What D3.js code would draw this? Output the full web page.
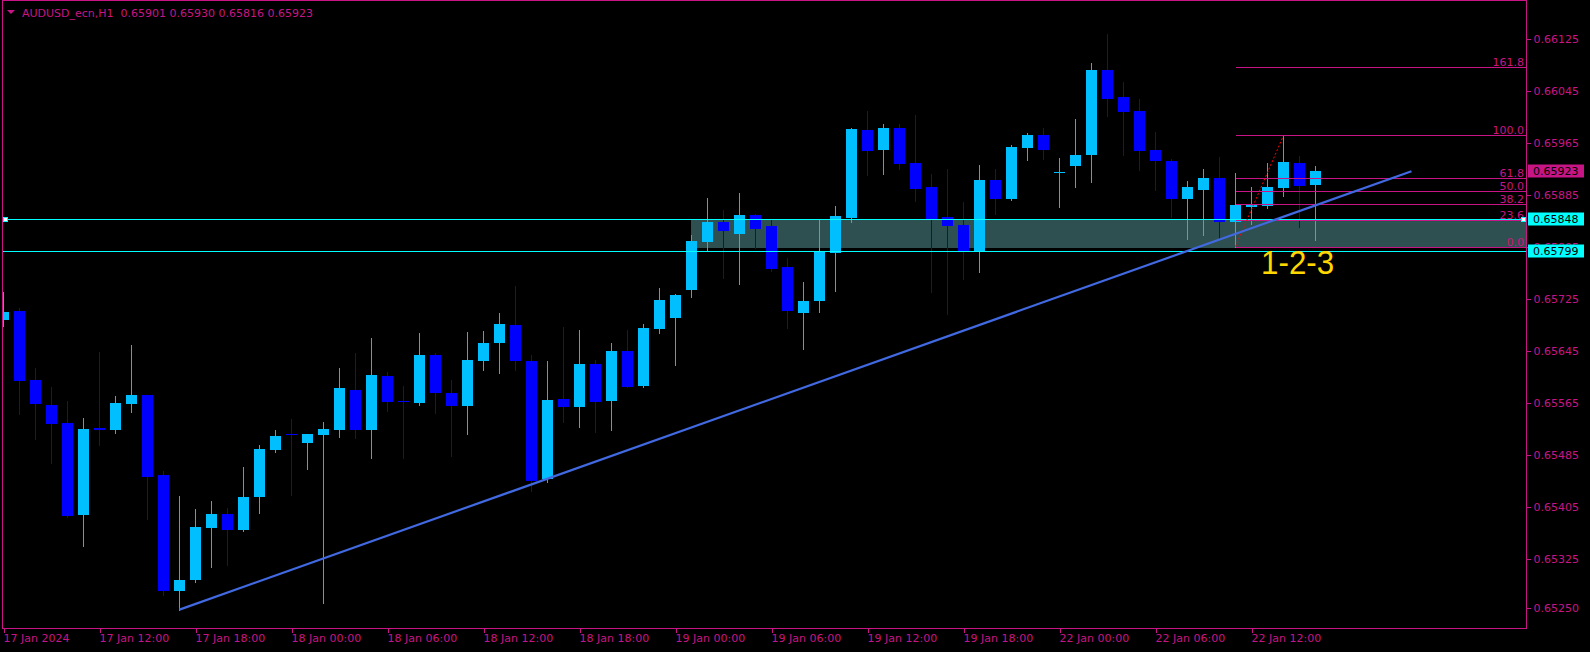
<!DOCTYPE html>
<html><head><meta charset="utf-8">
<script src="https://cdn.jsdelivr.net/npm/d3@7"></script>
<style>html,body{margin:0;padding:0;background:#000;overflow:hidden}</style>
</head><body>
<svg id="c" width="1590" height="652"></svg>
<script>
// ---------- data ----------
const symbol = "AUDUSD_ecn,H1";
const lastBar = ["0.65901", "0.65930", "0.65816", "0.65923"];
const opens = [0.65693,0.65707,0.65600,0.65562,0.65534,0.65393,0.65526,0.65524,0.65564,0.65577,
0.65454,0.65276,0.65293,0.65373,0.65394,0.65370,0.65420,0.65493,0.65517,0.65503,
0.65516,0.65524,0.65585,0.65524,0.65607,0.65568,0.65565,0.65639,0.65581,0.65560,
0.65630,0.65657,0.65685,0.65630,0.65448,0.65571,0.65559,0.65625,0.65568,0.65645,
0.65591,0.65679,0.65696,0.65739,0.65813,0.65844,0.65825,0.65855,0.65838,0.65774,
0.65704,0.65722,0.65796,0.65850,0.65985,0.65955,0.65988,0.65935,0.65898,0.65851,
0.65839,0.65799,0.65908,0.65879,0.65958,0.65978,0.65919,0.65930,0.65947,0.66078,
0.66036,0.66015,0.65955,0.65938,0.65879,0.65893,0.65911,0.65844,0.65867,0.65868,
0.65896,0.65935,0.65901];
const highs = [0.65736,0.65712,0.65619,0.65589,0.65568,0.65542,0.65644,0.65576,0.65654,0.65578,
0.65460,0.65422,0.65402,0.65414,0.65403,0.65467,0.65500,0.65524,0.65540,0.65518,
0.65536,0.65619,0.65642,0.65665,0.65613,0.65591,0.65673,0.65642,0.65600,0.65674,
0.65676,0.65704,0.65745,0.65639,0.65630,0.65682,0.65678,0.65631,0.65657,0.65678,
0.65687,0.65742,0.65733,0.65824,0.65881,0.65862,0.65888,0.65856,0.65847,0.65788,
0.65751,0.65847,0.65868,0.65988,0.66015,0.65995,0.65995,0.66008,0.65918,0.65925,
0.65875,0.65931,0.65925,0.65962,0.65981,0.65988,0.65942,0.66002,0.66089,0.66133,
0.66059,0.66033,0.65982,0.65941,0.65907,0.65925,0.65944,0.65919,0.65898,0.65935,
0.65977,0.65945,0.65930];
const lows = [0.65683,0.65548,0.65510,0.65473,0.65389,0.65345,0.65501,0.65519,0.65551,0.65387,
0.65270,0.65247,0.65290,0.65313,0.65316,0.65368,0.65396,0.65490,0.65423,0.65463,
0.65257,0.65513,0.65511,0.65480,0.65553,0.65480,0.65562,0.65550,0.65483,0.65517,
0.65616,0.65611,0.65616,0.65430,0.65444,0.65536,0.65528,0.65520,0.65524,0.65589,
0.65590,0.65673,0.65624,0.65728,0.65801,0.65758,0.65748,0.65804,0.65768,0.65681,
0.65648,0.65705,0.65738,0.65844,0.65916,0.65918,0.65925,0.65876,0.65736,0.65702,
0.65756,0.65767,0.65856,0.65878,0.65939,0.65941,0.65867,0.65898,0.65905,0.66007,
0.65947,0.65924,0.65893,0.65852,0.65818,0.65824,0.65819,0.65806,0.65841,0.65866,
0.65884,0.65836,0.65816];
const closes = [0.65705,0.65599,0.65564,0.65533,0.65391,0.65525,0.65524,0.65565,0.65577,0.65451,
0.65276,0.65293,0.65374,0.65394,0.65370,0.65420,0.65494,0.65514,0.65516,0.65517,
0.65525,0.65588,0.65524,0.65608,0.65567,0.65566,0.65639,0.65581,0.65560,0.65631,
0.65657,0.65687,0.65630,0.65445,0.65570,0.65559,0.65625,0.65567,0.65645,0.65590,
0.65681,0.65724,0.65731,0.65815,0.65844,0.65830,0.65855,0.65833,0.65771,0.65707,
0.65722,0.65799,0.65853,0.65987,0.65953,0.65988,0.65933,0.65895,0.65848,0.65838,
0.65799,0.65908,0.65879,0.65959,0.65978,0.65955,0.65920,0.65947,0.66078,0.66033,
0.66013,0.65953,0.65938,0.65879,0.65898,0.65911,0.65844,0.65870,0.65870,0.65898,
0.65936,0.65899,0.65923];
const xTickIdx = [0,6,12,18,24,30,36,42,48,54,60,66,72,78];
const xTickLabels = ["17 Jan 2024","17 Jan 12:00","17 Jan 18:00","18 Jan 00:00","18 Jan 06:00",
"18 Jan 12:00","18 Jan 18:00","19 Jan 00:00","19 Jan 06:00","19 Jan 12:00","19 Jan 18:00",
"22 Jan 00:00","22 Jan 06:00","22 Jan 12:00"];
const yTicks = [0.66125,0.66045,0.65965,0.65885,0.65805,0.65725,0.65645,0.65565,0.65485,0.65405,0.65325,0.65250];
const trendIdx = [11, 88];
const trendPrice = [0.65247, 0.65922];
const hLevels = [0.65848, 0.65799];
const zoneIdx = 43;
const zonePrices = [0.65848, 0.65804];
const fibIdx = [77, 80];
const fibPrices = [0.65806, 0.65977];
const fibRatios = [0, 23.6, 38.2, 50, 61.8, 100, 161.8];
const fibLabels = ["0.0","23.6","38.2","50.0","61.8","100.0","161.8"];
const noteText = "1-2-3";
const noteIdx = 78.6;
const notePrice = 0.65764;

// ---------- styling ----------
const W = 1590, H = 652;
const MAG = "#C71585", BULL = "#00BFFF", BEAR = "#0000FF", CYAN = "#00FFFF";
const plot = {left: 2, right: 1526, top: 0, bottom: 628};

const svg = d3.select("#c");
svg.append("rect").attr("width", W).attr("height", H).attr("fill", "#000");

const x = d3.scaleLinear().domain([0, 82]).range([3.5, 3.5 + 82 * 16]);
const y = d3.scaleLinear().domain([0.65250, 0.66125]).range([607.7, 39.3]);

const defs = svg.append("defs");
defs.append("clipPath").attr("id", "clip").append("rect")
  .attr("x", plot.left + 1).attr("y", plot.top + 1)
  .attr("width", plot.right - plot.left - 1).attr("height", plot.bottom - plot.top - 1);

const g = svg.append("g").attr("clip-path", "url(#clip)");

// zone rectangle
g.append("rect")
  .attr("x", Math.round(x(zoneIdx) - 0.5))
  .attr("y", Math.round(y(zonePrices[0])))
  .attr("width", plot.right - Math.round(x(zoneIdx) - 0.5))
  .attr("height", Math.round(y(zonePrices[1])) - Math.round(y(zonePrices[0])))
  .attr("fill", "#2F5050");

// candles
const data = opens.map((o, i) => ({i, o, h: highs[i], l: lows[i], c: closes[i]}));
const cg = g.append("g").attr("shape-rendering", "crispEdges");
data.forEach(d => {
  const col = d.c >= d.o ? BULL : BEAR;
  const cx = x(d.i);
  cg.append("line").attr("x1", cx).attr("x2", cx)
    .attr("y1", Math.round(y(d.h))).attr("y2", Math.round(y(d.l)) + 1)
    .attr("stroke", col).attr("stroke-width", 1);
  const top = Math.round(y(Math.max(d.o, d.c)));
  const bot = Math.round(y(Math.min(d.o, d.c)));
  cg.append("rect").attr("x", cx - 5.5).attr("width", 11)
    .attr("y", top).attr("height", Math.max(1, bot - top))
    .attr("fill", col);
});

// cyan horizontal levels
hLevels.forEach(p => {
  const yy = Math.round(y(p)) + 0.5;
  g.append("line").attr("x1", plot.left).attr("x2", plot.right).attr("y1", yy).attr("y2", yy)
    .attr("stroke", CYAN).attr("stroke-width", 1).attr("shape-rendering", "crispEdges");
});

// fib levels
const fx0 = Math.round(x(fibIdx[0]));
fibRatios.forEach((r, k) => {
  const p = fibPrices[0] + (fibPrices[1] - fibPrices[0]) * r / 100;
  const yy = Math.round(y(p)) + 0.5;
  g.append("line").attr("x1", fx0).attr("x2", plot.right).attr("y1", yy).attr("y2", yy)
    .attr("stroke", MAG).attr("stroke-width", 1).attr("shape-rendering", "crispEdges");
  g.append("text").attr("x", plot.right - 2).attr("y", yy - 2)
    .attr("text-anchor", "end").attr("fill", MAG)
    .attr("font-family", "DejaVu Sans").attr("font-size", 11).text(fibLabels[k]);
});
// fib diagonal (red dotted)
g.append("line")
  .attr("x1", x(fibIdx[0])).attr("y1", y(fibPrices[0]))
  .attr("x2", x(fibIdx[1])).attr("y2", y(fibPrices[1]))
  .attr("stroke", "#FF0000").attr("stroke-width", 1).attr("stroke-dasharray", "2,2");

// trendline
const tx = d3.scaleLinear().domain([0, 82]).range([3.5, 3.5 + 82 * 16]);
g.append("line")
  .attr("x1", tx(trendIdx[0])).attr("y1", y(trendPrice[0]))
  .attr("x2", tx(trendIdx[1])).attr("y2", y(trendPrice[1]))
  .attr("stroke", "#4169E1").attr("stroke-width", 2.2);

// note text
g.append("text").attr("x", x(noteIdx)).attr("y", y(notePrice))
  .attr("fill", "#FFD700").attr("font-family", "Liberation Sans, Arial, sans-serif")
  .attr("font-size", 34).attr("textLength", 73).attr("lengthAdjust", "spacingAndGlyphs")
  .text(noteText);

// selection handles of the horizontal line
[[plot.left + 3, hLevels[0]], [plot.right - 3, hLevels[0]]].forEach(([hx, p]) => {
  svg.append("rect").attr("x", hx - 2).attr("y", Math.round(y(p)) - 2)
    .attr("width", 4).attr("height", 4).attr("fill", "#fff")
    .attr("stroke", CYAN).attr("stroke-width", 1).attr("shape-rendering", "crispEdges");
});

// frame
const fr = svg.append("g").attr("stroke", MAG).attr("stroke-width", 1).attr("shape-rendering", "crispEdges");
fr.append("line").attr("x1", plot.left + 0.5).attr("x2", plot.left + 0.5).attr("y1", 0).attr("y2", plot.bottom + 1);
fr.append("line").attr("x1", plot.right + 0.5).attr("x2", plot.right + 0.5).attr("y1", 0).attr("y2", plot.bottom + 1);
fr.append("line").attr("x1", plot.left).attr("x2", plot.right + 1).attr("y1", plot.bottom + 0.5).attr("y2", plot.bottom + 0.5);
fr.append("line").attr("x1", plot.left).attr("x2", plot.right + 1).attr("y1", 0.5).attr("y2", 0.5);

// y axis
const yAxis = d3.axisRight(y).tickValues(yTicks).tickSize(4).tickPadding(3).tickFormat(d3.format(".5f"));
const ya = svg.append("g").attr("transform", `translate(${plot.right + 0.5},0)`).call(yAxis);
ya.select(".domain").remove();
ya.selectAll("line").attr("stroke", MAG).attr("shape-rendering", "crispEdges");
ya.selectAll("text").attr("fill", MAG).attr("font-family", "DejaVu Sans").attr("font-size", 11);

// x axis
const xAxis = d3.axisBottom(x).tickValues(xTickIdx).tickSize(4).tickPadding(2)
  .tickFormat((d, k) => xTickLabels[k]);
const xa = svg.append("g").attr("transform", `translate(0,${plot.bottom + 0.5})`).call(xAxis);
xa.select(".domain").remove();
xa.selectAll("line").attr("stroke", MAG).attr("shape-rendering", "crispEdges");
xa.selectAll("text").attr("fill", MAG).attr("font-family", "DejaVu Sans").attr("font-size", 11)
  .attr("text-anchor", "start").attr("dx", -0.5);

// price boxes
function priceBox(p, bg, fg) {
  const yy = y(p);
  svg.append("rect").attr("x", 1528).attr("y", Math.round(yy) - 6.5).attr("width", 56).attr("height", 13)
    .attr("fill", bg);
  svg.append("text").attr("x", 1533).attr("y", Math.round(yy) + 4).attr("fill", fg)
    .attr("font-family", "DejaVu Sans").attr("font-size", 11).text(d3.format(".5f")(p));
}
priceBox(closes[closes.length - 1], MAG, "#000");
hLevels.forEach(p => priceBox(p, CYAN, "#000"));

// header
svg.append("path").attr("d", "M7,10 L15,10 L11,14 Z").attr("fill", MAG);
svg.append("text").attr("x", 22).attr("y", 16.5).attr("fill", MAG)
  .attr("font-family", "DejaVu Sans").attr("font-size", 11).attr("xml:space", "preserve")
  .text(symbol + "  " + lastBar.join(" "));
</script>
</body></html>
